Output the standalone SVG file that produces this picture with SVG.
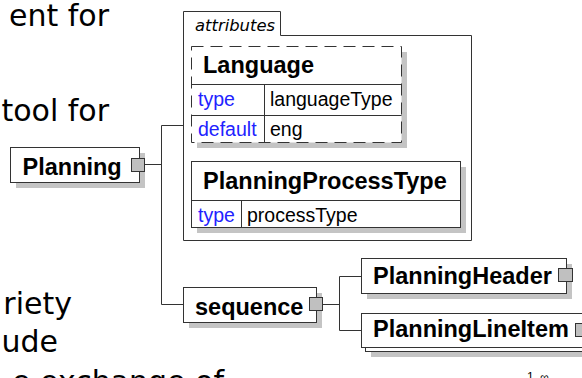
<svg xmlns="http://www.w3.org/2000/svg" width="582" height="378" viewBox="0 0 582 378">
<style>
.bg{font-family:"DejaVu Sans",Verdana,sans-serif;font-size:30px;fill:#000}
.box{fill:#fff;stroke:#333;stroke-width:1}
.dash{fill:#fff;stroke:#333;stroke-width:1;stroke-dasharray:12 7}
.sh{fill:#c4c4c4}
.b{font-family:"Liberation Sans",Arial,sans-serif;font-weight:bold;font-size:23.5px;fill:#000}
.r{font-family:"Liberation Sans",Arial,sans-serif;font-size:19.5px;fill:#000}
.k{font-family:"Liberation Sans",Arial,sans-serif;font-size:19.5px;fill:#2222ff}
.it{font-family:"DejaVu Sans",Verdana,sans-serif;font-style:italic;font-size:16.4px;fill:#000}
.ln{fill:none;stroke:#333;stroke-width:1}
.sq{fill:#c0c0c0;stroke:#333;stroke-width:1}
.m{font-family:"Liberation Sans",Arial,sans-serif;font-size:12px;fill:#000}
</style>
<rect width="582" height="378" fill="#fff"/>
<g id="page-text">
<text class="bg" x="109" y="26" text-anchor="end">ent for</text>
<text class="bg" x="109" y="120.5" text-anchor="end">tool for</text>
<text class="bg" x="72" y="314" text-anchor="end">riety</text>
<text class="bg" x="58" y="352" text-anchor="end">ude</text>
<text class="bg" x="224" y="392" text-anchor="end">e exchange of</text>
</g>
<g id="connectors">
<path class="ln" d="M144.5,164.5H161.5M161.5,125.5V304.5M161.5,125.5H183.5M161.5,304.5H183.5"/>
<path class="ln" d="M322.5,304.5H339.5M339.5,276.5V330.5M339.5,276.5H361.5M339.5,330.5H361.5"/>
</g>
<g id="attributes">
<path class="ln" d="M183.5,240.5V11.5H280.5V35.5H471.5V240.5Z"/>
<text class="it" x="195" y="31">attributes</text>
</g>
<g id="Language">
<rect class="sh" x="197" y="52" width="210" height="96"/>
<rect class="dash" x="191.5" y="46.5" width="210" height="96"/>
<path class="ln" d="M191.5,84.5H401.5M191.5,115.5H401.5M264.5,84.5V142.5"/>
<text class="b" x="203" y="72.5">Language</text>
<text class="k" x="198" y="106">type</text>
<text class="r" x="270" y="106">languageType</text>
<text class="k" x="198" y="136">default</text>
<text class="r" x="270" y="136">eng</text>
</g>
<g id="PlanningProcessType">
<rect class="sh" x="197" y="167" width="269" height="66"/>
<rect class="box" x="191.5" y="161.5" width="269" height="66"/>
<path class="ln" d="M191.5,200.5H460.5M241.5,200.5V227.5"/>
<text class="b" x="203" y="188.5">PlanningProcessType</text>
<text class="k" x="198" y="221.5">type</text>
<text class="r" x="247" y="221.5">processType</text>
</g>
<g id="Planning">
<rect class="sh" x="16" y="153" width="129" height="35"/>
<rect class="box" x="10.5" y="147.5" width="129" height="35"/>
<text class="b" x="22.5" y="175">Planning</text>
<rect class="sq" x="131.5" y="158.5" width="13" height="13"/>
</g>
<g id="sequence">
<rect class="sh" x="189" y="293" width="133" height="35"/>
<rect class="box" x="183.5" y="287.5" width="133" height="35"/>
<text class="b" x="195" y="315">sequence</text>
<rect class="sq" x="309.5" y="297.5" width="13" height="13"/>
</g>
<g id="PlanningHeader">
<rect class="sh" x="367" y="264" width="205" height="35"/>
<rect class="box" x="361.5" y="258.5" width="205" height="35"/>
<text class="b" x="373" y="283.5">PlanningHeader</text>
<rect class="sq" x="558.5" y="268.5" width="14" height="13"/>
</g>
<g id="PlanningLineItem">
<rect class="sh" x="371" y="323" width="230" height="34"/>
<rect class="box" x="365.5" y="317.5" width="230" height="34"/>
<rect class="box" x="361.5" y="313.5" width="230" height="34"/>
<text class="b" x="373" y="337">PlanningLineItem</text>
<rect class="sq" x="575.5" y="323.5" width="14" height="13"/>
<text class="m" x="527" y="381">1..∞</text>
</g>
</svg>
